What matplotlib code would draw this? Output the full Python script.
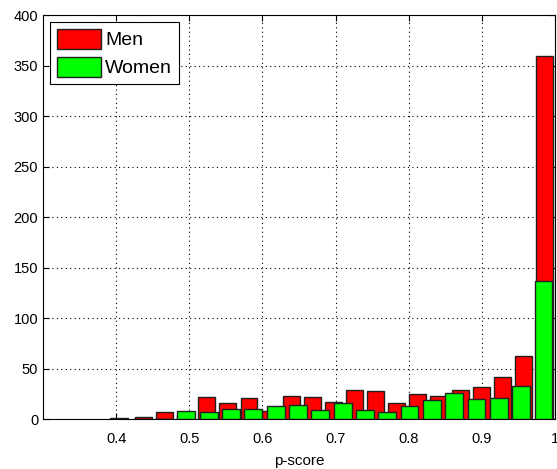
import numpy as np
import matplotlib
matplotlib.use("Agg")
import matplotlib.pyplot as plt

# bin centres (20 bins each, different ranges)
men_centers = [0.4374, 0.4663, 0.4951, 0.5240, 0.5528, 0.5817, 0.6105, 0.6394, 0.6682, 0.6971,
               0.7259, 0.7548, 0.7836, 0.8125, 0.8413, 0.8702, 0.8990, 0.9279, 0.9567, 0.9856]
men_counts = [2, 7, 4, 22, 16, 21, 8, 23, 22, 17,
              29, 28, 16, 25, 23, 29, 32, 42, 62, 359]

women_centers = [0.4043, 0.4348, 0.4653, 0.4959, 0.5264, 0.5569, 0.5874, 0.6180, 0.6485, 0.6790,
                 0.7096, 0.7401, 0.7706, 0.8011, 0.8317, 0.8622, 0.8927, 0.9233, 0.9538, 0.9843]
women_counts = [1, 0, 0, 8, 7, 10, 10, 13, 14, 9,
                16, 9, 7, 13, 19, 26, 20, 21, 33, 137]

xticks = [0.4, 0.5, 0.6, 0.7, 0.8, 0.9, 1.0]
xticklabels = ["0.4", "0.5", "0.6", "0.7", "0.8", "0.9", "1"]
yticks = [0, 50, 100, 150, 200, 250, 300, 350, 400]

plt.rcParams['font.family'] = ['Liberation Sans', 'DejaVu Sans']

fig = plt.figure(figsize=(5.57, 4.69), dpi=100)
ax = fig.add_axes([0.0772, 0.1066, 0.9192, 0.8614])

men_w = 0.8 * (men_centers[1] - men_centers[0])
women_w = 0.8 * (women_centers[1] - women_centers[0])

ax.bar(men_centers, men_counts, width=men_w, color='#ff0000', edgecolor='#202020',
       linewidth=1.0, label='Men', zorder=2)
ax.bar(women_centers, women_counts, width=women_w, color='#00ff00', edgecolor='#202020',
       linewidth=1.0, label='Women', zorder=3)

ax.set_xlim(0.3, 1.0)
ax.set_ylim(0, 400)
ax.set_xticks(xticks)
ax.set_xticklabels(xticklabels)
ax.set_yticks(yticks)
ax.tick_params(direction='in', top=True, right=True, labelsize=10.5, length=4, width=0.8)
ax.tick_params(axis='x', pad=9)
ax.grid(True, linestyle=(0, (1, 3)), color='black', linewidth=0.8, zorder=0)
ax.set_axisbelow(True)
for s in ax.spines.values():
    s.set_linewidth(0.8)

ax.set_xlabel("p-score", fontsize=11, labelpad=6)

leg = ax.legend(loc='upper left', fontsize=14, fancybox=False, framealpha=1,
                edgecolor='black', handlelength=2.3, handleheight=1.2,
                borderaxespad=0.35, labelspacing=0.4, handletextpad=0.2,
                borderpad=0.35)
leg.get_frame().set_linewidth(0.8)

fig.savefig("out.png", dpi=100)
